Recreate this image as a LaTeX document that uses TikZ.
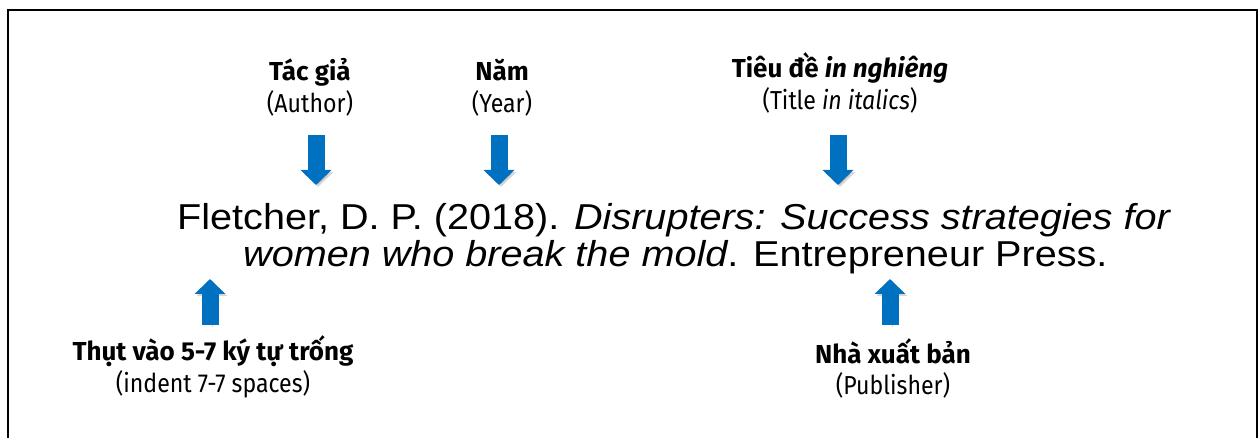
\documentclass[tikz,border=0pt]{standalone}
\usepackage{fontspec}
\setmainfont{Liberation Sans}[FakeStretch=1.1]
\newfontfamily\notefont{Fira Sans}[UprightFeatures={FakeStretch=0.89}, ItalicFeatures={FakeStretch=0.89}]
\usepackage{tikz}
\usetikzlibrary{arrows.meta, positioning}
\definecolor{arrowblue}{HTML}{0070C0}
\tikzset{
  note/.style={
    font=\notefont\fontsize{26}{32}\selectfont,
    align=center,
    inner sep=0pt,
    anchor=base
  },
  citation/.style={
    font=\fontsize{36}{40}\selectfont,
    inner sep=0pt,
    anchor=base west
  },
  pointer/.style={
    draw=arrowblue,
    line width=17pt,
    -{Triangle[width=30pt,length=15pt]},
    preaction={draw=black!45, opacity=0.35, transform canvas={shift={(2pt,-2pt)}}}
  }
}

\begin{document}
\begin{tikzpicture}[x=1pt, y=-1pt]
  \useasboundingbox (0,0) rectangle (1259,438);

  % Frame
  \draw[line width=2pt] (8,438) |- (1257,10) -- (1257,438);

  % Reference entry
  \node[citation] (entry1) at (177,230) {Fletcher, D. P. (2018). \textit{Disrupters: Success strategies for}};
  \node[citation, below right=37pt and 66pt of entry1.base west, anchor=base west] (entry2) {\textit{women who break the mold}. Entrepreneur Press.};

  % Labels (base = last line)
  \node[note] (author) at (310,113) {\textbf{Tác giả}\\(Author)};
  \node[note] (year) at (502,113) {\textbf{Năm}\\(Year)};
  \node[note] (title) at (840,110) {\textbf{Tiêu đề \textit{in nghiêng}}\\(Title \textit{in italics})};
  \node[note] (indent) at (213,392) {\textbf{Thụt vào 5-7 ký tự trống}\\(indent 7-7 spaces)};
  \node[note] (publisher) at (893,395) {\textbf{Nhà xuất bản}\\(Publisher)};

  % Arrows
  \foreach \name/\dx/\dy in {author/6/-22, year/-3/-22, title/-2/-25}
    \draw[pointer] ([xshift=\dx pt, yshift=\dy pt]\name.base) -- ++(0,50);
  \foreach \name/\dx/\dy in {indent/-3/67, publisher/-3/70}
    \draw[pointer] ([xshift=\dx pt, yshift=\dy pt]\name.base) -- ++(0,-46);
\end{tikzpicture}
\end{document}
